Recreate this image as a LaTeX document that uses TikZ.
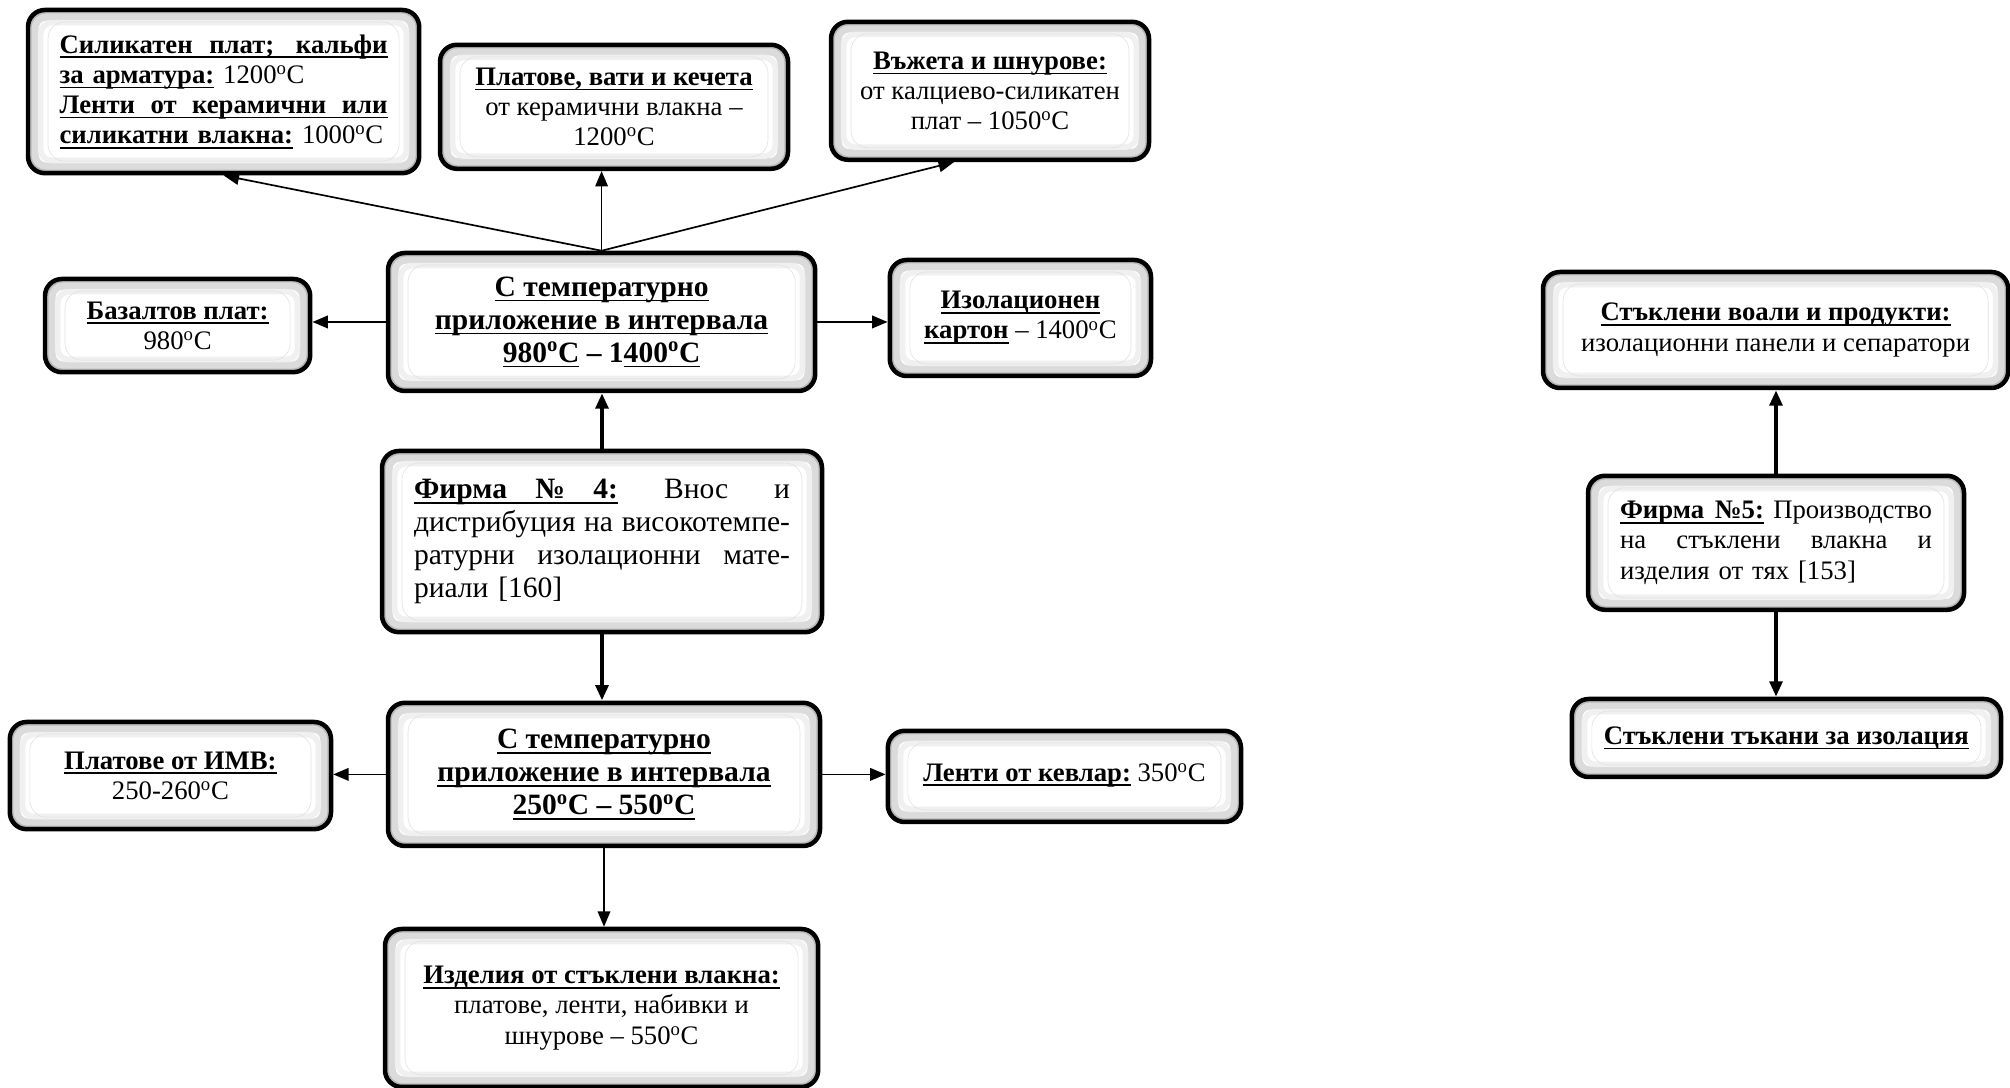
\documentclass[tikz,border=0pt]{standalone}
\usepackage{fontspec}
\setmainfont{Liberation Serif}
\usetikzlibrary{arrows.meta,positioning,calc}
\newsavebox\ulsave
\newcommand{\ulbox}[1]{\leavevmode\sbox\ulsave{#1}\rlap{\rule[-3.5pt]{\wd\ulsave}{1.1pt}}\usebox\ulsave}
\newcommand{\hd}[1]{\ulbox{\textbf{#1}}}
\newcommand{\dg}{\textsuperscript{o}C}
\newcommand{\spread}[2]{\makebox[#1][s]{\spaceskip=0.25em plus 1fil\relax#2}}
\newcommand{\fullline}[1]{\leavevmode\spread{\linewidth}{#1}}
\newcommand{\fullhd}[1]{\leavevmode\rlap{\rule[-3.5pt]{\linewidth}{1.1pt}}\fullline{\textbf{#1}}}
\tikzset{
box/.style={draw, line width=3.2pt, rounded corners=12pt, fill=white, align=center, inner sep=0pt,
  font=\fontsize{19}{21.5}\selectfont,
  path picture={
    \draw[black!28, line width=8pt] (path picture bounding box.south west) rectangle (path picture bounding box.north east);
    \draw[black!14, line width=5pt, rounded corners=8pt] ([shift={(5pt,5pt)}]path picture bounding box.south west) rectangle ([shift={(-5pt,-5pt)}]path picture bounding box.north east);
    \draw[black!6, line width=4pt, rounded corners=8pt] ([shift={(9pt,9pt)}]path picture bounding box.south west) rectangle ([shift={(-9pt,-9pt)}]path picture bounding box.north east);
    \draw[black!12, thin] ([shift={(0.5,0.3)}]path picture bounding box.south west) rectangle ([shift={(-0.5,-0.3)}]path picture bounding box.north east);
  }},
bigbox/.style={box, font=\fontsize{21}{23.5}\selectfont},
arr/.style={-{Triangle[length=11pt,width=9pt]}, line width=1.2pt},
thickarr/.style={arr, line width=3pt},
}

\begin{document}
\begin{tikzpicture}[
        jbox/.style={align=left, text width=#1}
    ]
    \useasboundingbox (0,0) rectangle (50.25,27.2);

    \node[bigbox] (C1) at (15.04,19.15) [minimum width=10.68cm, minimum height=3.45cm]
        {\hd{С температурно}\\ \hd{приложение в интервала}\\ \textbf{\ulbox{980\dg} – 1\ulbox{400\dg}}};
    \node[box, jbox=8.2cm] (B1) at (5.59,24.91) [minimum width=9.78cm, minimum height=4.08cm]
        {\fullhd{Силикатен плат; кальфи}\\ \hd{за арматура:} 1200\dg\\
         \fullhd{Ленти от керамични или}\\ \hd{силикатни влакна:} 1000\dg};
    \node[box] (B2) at (15.35,24.53) [minimum width=8.7cm, minimum height=3.1cm]
        {\hd{Платове, вати и кечета}\\ от керамични влакна –\\ 1200\dg};
    \node[box] (B3) at (24.75,24.93) [minimum width=7.95cm, minimum height=3.45cm]
        {\hd{Въжета и шнурове:}\\ от калциево-силикатен\\ плат – 1050\dg};
    \node[box] (B4) at (4.44,19.06) [minimum width=6.63cm, minimum height=2.33cm]
        {\hd{Базалтов плат:}\\ 980\dg};
    \node[box] (B5) at (25.51,19.25) [minimum width=6.53cm, minimum height=2.9cm]
        {\hd{Изолационен}\\ \hd{картон} – 1400\dg};

    \node[bigbox, jbox=9.4cm] (F4) at (15.05,13.66) [minimum width=11cm, minimum height=4.53cm]
        {\fullline{\ulbox{\spread{5.1cm}{\textbf{Фирма № 4:}}} Внос и}\\
         \fullline{дистрибуция на високотемпе-}\\
         \fullline{ратурни изолационни мате-}\\
         риали [160]};

    \node[bigbox] (C2) at (15.1,7.84) [minimum width=10.8cm, minimum height=3.58cm]
        {\hd{С температурно}\\ \hd{приложение в интервала}\\ \hd{250\dg{} – 550\dg}};
    \node[box] (B6) at (4.26,7.81) [minimum width=8.03cm, minimum height=2.68cm]
        {\hd{Платове от ИМВ:}\\ 250-260\dg};
    \node[box] (B7) at (26.61,7.79) [minimum width=8.83cm, minimum height=2.28cm]
        {\raisebox{6pt}{\hd{Ленти от кевлар:} 350\dg}};
    \node[box] (B8) at (15.04,2.0) [minimum width=10.83cm, minimum height=3.95cm]
        {\hd{Изделия от стъклени влакна:}\\ платове, ленти, набивки и\\ шнурове – 550\dg};

    \node[box] (R1) at (44.39,18.95) [minimum width=11.63cm, minimum height=2.9cm]
        {\hd{Стъклени воали и продукти:}\\ изолационни панели и сепаратори};
    \node[box, jbox=7.8cm] (F5) at (44.4,13.63) [minimum width=9.4cm, minimum height=3.35cm]
        {\fullline{\ulbox{\spread{3.6cm}{\textbf{Фирма №5:}}} Производство}\\
         \fullline{на стъклени влакна и}\\
         изделия от тях [153]};
    \node[box] (R3) at (44.66,8.75) [minimum width=10.73cm, minimum height=1.95cm]
        {\hd{Стъклени тъкани за изолация}};

    \draw[arr] (C1.north) -- (B1.south);
    \draw[arr] (C1.north) -- (C1.north |- B2.south);
    \draw[arr] (C1.north) -- ([xshift=-0.9cm]B3.south);
    \draw[arr] (C1.west) -- (C1.west -| B4.east);
    \draw[arr] (C1.east) -- (C1.east -| B5.west);
    \draw[thickarr] (F4.north) -- (F4.north |- C1.south);
    \draw[thickarr] (F4.south) -- (F4.south |- C2.north);
    \draw[arr] (C2.west) -- (C2.west -| B6.east);
    \draw[arr] (C2.east) -- (C2.east -| B7.west);
    \draw[arr] (C2.south) -- (C2.south |- B8.north);
    \draw[thickarr] (F5.north) -- (F5.north |- R1.south);
    \draw[thickarr] (F5.south) -- (F5.south |- R3.north);
\end{tikzpicture}
\end{document}
